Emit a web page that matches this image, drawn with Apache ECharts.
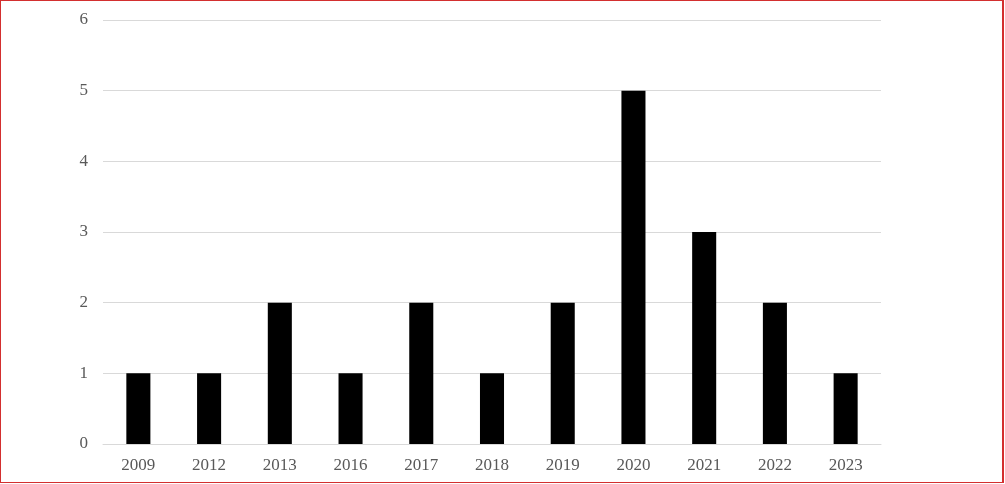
<!DOCTYPE html>
<html>
<head>
<meta charset="utf-8">
<script src="https://cdn.jsdelivr.net/npm/echarts@6/dist/echarts.min.js"></script>
<style>
html,body{margin:0;padding:0;background:#fff;}
#wrap{position:relative;width:1005px;height:484px;}
#chart{width:1005px;height:484px;}
#frame{position:absolute;left:0;top:0;width:1004px;height:483px;box-sizing:border-box;border:1px solid #d32f2f;border-right-width:2px;pointer-events:none;}
</style>
</head>
<body>
<div id="wrap"><div id="chart"></div><div id="frame"></div></div>
<script>
const categories = ['2009','2012','2013','2016','2017','2018','2019','2020','2021','2022','2023'];
const counts = [1,1,2,1,2,1,2,5,3,2,1];
const yTicks = [0,1,2,3,4,5,6];

const chart = echarts.init(document.getElementById('chart'));
chart.setOption({
  animation:false,
  grid:{left:103,right:124,top:20,bottom:40,containLabel:false},
  xAxis:{
    type:'category',
    data:categories,
    axisLine:{show:true,lineStyle:{color:'#d9d9d9',width:1}},
    axisTick:{show:false},
    axisLabel:{color:'#595959',fontFamily:'Liberation Serif',fontSize:17,margin:13}
  },
  yAxis:{
    type:'value',
    min:yTicks[0],max:yTicks[yTicks.length-1],interval:1,
    axisLine:{show:false},
    axisTick:{show:false},
    splitLine:{lineStyle:{color:'#d9d9d9',width:1}},
    axisLabel:{color:'#595959',fontFamily:'Liberation Serif',fontSize:17,margin:15}
  },
  series:[{
    type:'bar',
    data:counts,
    barWidth:'34%',
    itemStyle:{color:'#000000'}
  }]
});
</script>
</body>
</html>
